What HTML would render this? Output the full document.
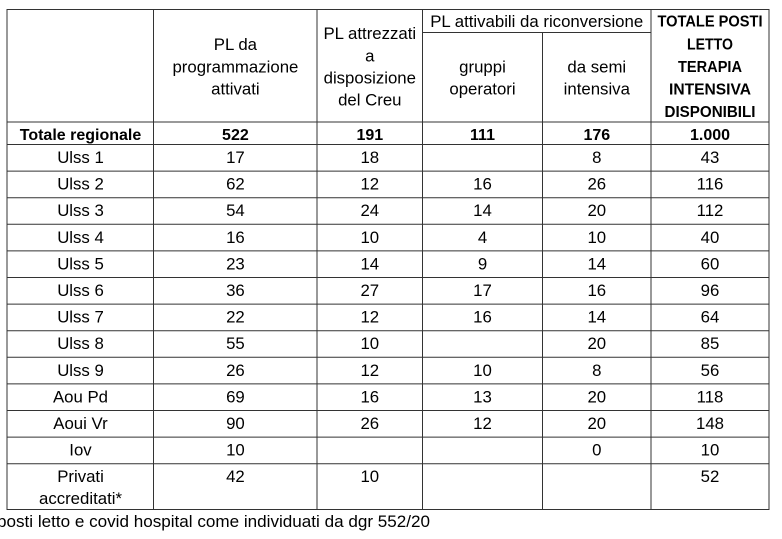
<!DOCTYPE html>
<html>
<head>
<meta charset="utf-8">
<style>
html,body{margin:0;padding:0;background:#fff;}
body{width:782px;height:539px;overflow:hidden;}
svg{display:block;}
text{font-family:"Liberation Sans",Arial,sans-serif;fill:#000;}
.r{font-size:16.8px;}
.b{font-size:16px;font-weight:bold;}
</style>
</head>
<body>
<svg width="782" height="539" viewBox="0 0 782 539" xmlns="http://www.w3.org/2000/svg">
<rect x="0" y="0" width="782" height="539" fill="#fff"/>
<g stroke="#333" stroke-width="1" fill="none">
  <line x1="7" y1="9.5" x2="769" y2="9.5"/>
  <line x1="422.5" y1="32.5" x2="651" y2="32.5"/>
  <line x1="7" y1="122" x2="769" y2="122"/>
  <line x1="7" y1="144.5" x2="769" y2="144.5"/>
  <line x1="7" y1="171.1" x2="769" y2="171.1"/>
  <line x1="7" y1="197.7" x2="769" y2="197.7"/>
  <line x1="7" y1="224.3" x2="769" y2="224.3"/>
  <line x1="7" y1="250.9" x2="769" y2="250.9"/>
  <line x1="7" y1="277.5" x2="769" y2="277.5"/>
  <line x1="7" y1="304.1" x2="769" y2="304.1"/>
  <line x1="7" y1="330.7" x2="769" y2="330.7"/>
  <line x1="7" y1="357.3" x2="769" y2="357.3"/>
  <line x1="7" y1="383.9" x2="769" y2="383.9"/>
  <line x1="7" y1="410.5" x2="769" y2="410.5"/>
  <line x1="7" y1="437.1" x2="769" y2="437.1"/>
  <line x1="7" y1="463.7" x2="769" y2="463.7"/>
  <line x1="7" y1="509.5" x2="769" y2="509.5"/>
  <line x1="7" y1="9" x2="7" y2="510"/>
  <line x1="153.5" y1="9" x2="153.5" y2="510"/>
  <line x1="317" y1="9" x2="317" y2="510"/>
  <line x1="422.5" y1="9" x2="422.5" y2="510"/>
  <line x1="542.5" y1="32.5" x2="542.5" y2="510"/>
  <line x1="651" y1="9" x2="651" y2="510"/>
  <line x1="769" y1="9" x2="769" y2="510"/>
</g>

<g text-anchor="middle">
  <text class="r" x="235.4" y="50">PL da</text>
  <text class="r" x="235.4" y="72.5">programmazione</text>
  <text class="r" x="235.4" y="94.5">attivati</text>
  <text class="r" x="369.8" y="39">PL attrezzati</text>
  <text class="r" x="369.8" y="61.3">a</text>
  <text class="r" x="369.8" y="83.6">disposizione</text>
  <text class="r" x="369.8" y="105.5">del Creu</text>
  <text class="r" x="536.7" y="27">PL attivabili da riconversione</text>
  <text class="r" x="482.5" y="72.5">gruppi</text>
  <text class="r" x="482.5" y="94.7">operatori</text>
  <text class="r" x="596.8" y="72.5">da semi</text>
  <text class="r" x="596.8" y="94.7">intensiva</text>
  <text class="b" x="710" y="26.7" textLength="105" lengthAdjust="spacingAndGlyphs">TOTALE POSTI</text>
  <text class="b" x="710" y="49.3" textLength="46" lengthAdjust="spacingAndGlyphs">LETTO</text>
  <text class="b" x="710" y="71.8" textLength="64" lengthAdjust="spacingAndGlyphs">TERAPIA</text>
  <text class="b" x="710" y="94.3" textLength="82" lengthAdjust="spacingAndGlyphs">INTENSIVA</text>
  <text class="b" x="710" y="117" textLength="91" lengthAdjust="spacingAndGlyphs">DISPONIBILI</text>

  <text class="b" x="80.5" y="140">Totale regionale</text>
  <text class="b" x="235.4" y="140">522</text>
  <text class="b" x="369.8" y="140">191</text>
  <text class="b" x="482.5" y="140">111</text>
  <text class="b" x="596.8" y="140">176</text>
  <text class="b" x="710" y="140">1.000</text>

  <text class="r" x="80.5" y="163">Ulss 1</text>
  <text class="r" x="235.4" y="163">17</text>
  <text class="r" x="369.8" y="163">18</text>
  <text class="r" x="596.8" y="163">8</text>
  <text class="r" x="710" y="163">43</text>

  <text class="r" x="80.5" y="189.6">Ulss 2</text>
  <text class="r" x="235.4" y="189.6">62</text>
  <text class="r" x="369.8" y="189.6">12</text>
  <text class="r" x="482.5" y="189.6">16</text>
  <text class="r" x="596.8" y="189.6">26</text>
  <text class="r" x="710" y="189.6">116</text>

  <text class="r" x="80.5" y="216.2">Ulss 3</text>
  <text class="r" x="235.4" y="216.2">54</text>
  <text class="r" x="369.8" y="216.2">24</text>
  <text class="r" x="482.5" y="216.2">14</text>
  <text class="r" x="596.8" y="216.2">20</text>
  <text class="r" x="710" y="216.2">112</text>

  <text class="r" x="80.5" y="242.8">Ulss 4</text>
  <text class="r" x="235.4" y="242.8">16</text>
  <text class="r" x="369.8" y="242.8">10</text>
  <text class="r" x="482.5" y="242.8">4</text>
  <text class="r" x="596.8" y="242.8">10</text>
  <text class="r" x="710" y="242.8">40</text>

  <text class="r" x="80.5" y="269.4">Ulss 5</text>
  <text class="r" x="235.4" y="269.4">23</text>
  <text class="r" x="369.8" y="269.4">14</text>
  <text class="r" x="482.5" y="269.4">9</text>
  <text class="r" x="596.8" y="269.4">14</text>
  <text class="r" x="710" y="269.4">60</text>

  <text class="r" x="80.5" y="296">Ulss 6</text>
  <text class="r" x="235.4" y="296">36</text>
  <text class="r" x="369.8" y="296">27</text>
  <text class="r" x="482.5" y="296">17</text>
  <text class="r" x="596.8" y="296">16</text>
  <text class="r" x="710" y="296">96</text>

  <text class="r" x="80.5" y="322.6">Ulss 7</text>
  <text class="r" x="235.4" y="322.6">22</text>
  <text class="r" x="369.8" y="322.6">12</text>
  <text class="r" x="482.5" y="322.6">16</text>
  <text class="r" x="596.8" y="322.6">14</text>
  <text class="r" x="710" y="322.6">64</text>

  <text class="r" x="80.5" y="349.2">Ulss 8</text>
  <text class="r" x="235.4" y="349.2">55</text>
  <text class="r" x="369.8" y="349.2">10</text>
  <text class="r" x="596.8" y="349.2">20</text>
  <text class="r" x="710" y="349.2">85</text>

  <text class="r" x="80.5" y="375.8">Ulss 9</text>
  <text class="r" x="235.4" y="375.8">26</text>
  <text class="r" x="369.8" y="375.8">12</text>
  <text class="r" x="482.5" y="375.8">10</text>
  <text class="r" x="596.8" y="375.8">8</text>
  <text class="r" x="710" y="375.8">56</text>

  <text class="r" x="80.5" y="402.4">Aou Pd</text>
  <text class="r" x="235.4" y="402.4">69</text>
  <text class="r" x="369.8" y="402.4">16</text>
  <text class="r" x="482.5" y="402.4">13</text>
  <text class="r" x="596.8" y="402.4">20</text>
  <text class="r" x="710" y="402.4">118</text>

  <text class="r" x="80.5" y="429">Aoui Vr</text>
  <text class="r" x="235.4" y="429">90</text>
  <text class="r" x="369.8" y="429">26</text>
  <text class="r" x="482.5" y="429">12</text>
  <text class="r" x="596.8" y="429">20</text>
  <text class="r" x="710" y="429">148</text>

  <text class="r" x="80.5" y="455.6">Iov</text>
  <text class="r" x="235.4" y="455.6">10</text>
  <text class="r" x="596.8" y="455.6">0</text>
  <text class="r" x="710" y="455.6">10</text>

  <text class="r" x="80.5" y="482.2">Privati</text>
  <text class="r" x="80.5" y="504">accreditati*</text>
  <text class="r" x="235.4" y="482.2">42</text>
  <text class="r" x="369.8" y="482.2">10</text>
  <text class="r" x="710" y="482.2">52</text>
</g>

<text class="r" x="-3" y="527" textLength="433" lengthAdjust="spacingAndGlyphs">posti letto e covid hospital come individuati da dgr 552/20</text>
</svg>
</body>
</html>
